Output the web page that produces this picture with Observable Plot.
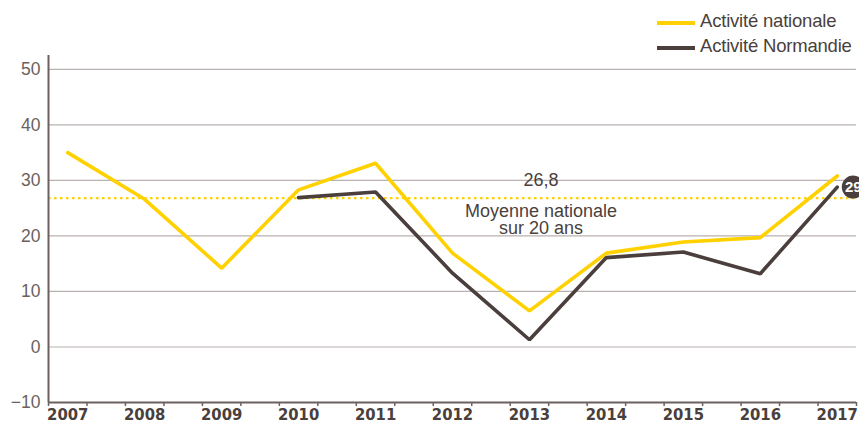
<!DOCTYPE html>
<html>
<head>
<meta charset="utf-8">
<script src="https://cdn.jsdelivr.net/npm/d3@7"></script>
<script src="https://cdn.jsdelivr.net/npm/@observablehq/plot@0.6"></script>
<style>
  html, body { margin: 0; padding: 0; background: #fff; }
  #wrap { position: relative; width: 859px; height: 425px; overflow: hidden; font-family: "Liberation Sans", Arial, sans-serif; }
  #legend { position: absolute; left: 657px; top: 8px; color: #4a3f3c; font-size: 18.5px; line-height: 25px; letter-spacing: -0.2px; }
  #legend .row { display: flex; align-items: center; white-space: nowrap; }
  #legend .sw { display: inline-block; width: 38px; height: 4px; margin-right: 5px; margin-top: 5px; }
</style>
</head>
<body>
<div id="wrap">
  <div id="chart"></div>
  <div id="legend"></div>
</div>
<script>
const years = [2007, 2008, 2009, 2010, 2011, 2012, 2013, 2014, 2015, 2016, 2017];
const nationale = [35, 26.6, 14.2, 28.3, 33.1, 16.9, 6.5, 16.9, 18.9, 19.7, 30.8];
const normandie = [null, null, null, 26.9, 27.9, 13.3, 1.3, 16.1, 17.1, 13.2, 28.8];
const seriesNames = ["Activité nationale", "Activité Normandie"];
const seriesColors = ["#FFD100", "#4a3f3c"];
const moyenne = 26.8;
const moyenneLabel = "26,8";
const moyenneText = "Moyenne nationale\nsur 20 ans";
const lastLabel = "29";
const yTicks = [-10, 0, 10, 20, 30, 40, 50];
const gridTicks = [0, 10, 20, 30, 40, 50];

const natData = years.map((y, i) => ({year: y, value: nationale[i]}));
const norData = years.map((y, i) => ({year: y, value: normandie[i]})).filter(d => d.value != null);
const halfTicks = d3.range(years[0] - 0.25, years[years.length - 1] + 0.5, 0.5);
const xDomain = [years[0] - 0.25, years[years.length - 1] + 0.25];
const yDomain = [-10, 52.5];
const lastNor = norData[norData.length - 1];

const dark = "#4a3f3c";
const chart = Plot.plot({
  width: 859,
  height: 425,
  marginLeft: 48,
  marginRight: 3,
  marginTop: 55,
  marginBottom: 23,
  style: {fontFamily: "'Liberation Sans', Arial, sans-serif", background: "#fff", overflow: "visible"},
  x: {domain: xDomain, axis: null, label: null},
  y: {domain: yDomain, axis: null, label: null},
  marks: [
    Plot.ruleY(gridTicks, {stroke: "#b9b1af", strokeWidth: 1.2}),
    Plot.ruleY([moyenne], {stroke: seriesColors[0], strokeWidth: 2.2, strokeDasharray: "2.5,3.5"}),
    Plot.axisY(yTicks, {label: null, tickSize: 0, tickPadding: 8, fontSize: 17.5, fill: "#6b6260", color: "#6b6260"}),
    Plot.ruleY([yDomain[0]], {stroke: "#6b615e", strokeWidth: 2}),
    Plot.ruleX([xDomain[0]], {stroke: "#6b615e", strokeWidth: 2}),
    Plot.axisX(halfTicks, {label: null, tickSize: 4, tickFormat: () => "", stroke: "#6b615e", strokeWidth: 1.5}),
    Plot.axisX(years, {label: null, tickSize: 0, tickPadding: 6, tickFormat: d => String(d), fontSize: 16.5, fontWeight: "bold", fill: dark, fontFamily: "'DejaVu Sans Condensed', 'DejaVu Sans', sans-serif", fontStretch: "condensed"}),
    Plot.line(natData, {x: "year", y: "value", stroke: seriesColors[0], strokeWidth: 3.6, strokeLinejoin: "miter"}),
    Plot.line(norData, {x: "year", y: "value", stroke: seriesColors[1], strokeWidth: 3.6, strokeLinejoin: "miter"}),
    Plot.text([moyenne], {x: () => 2013.15, y: d => d, text: () => moyenneLabel, dy: -18, fontSize: 18, fill: dark}),
    Plot.text([moyenne], {x: () => 2013.15, y: d => d, text: () => moyenneText, dy: 22, lineHeight: 0.95, fontSize: 18, fill: dark}),
    Plot.dot([lastNor], {x: "year", y: "value", dx: 16, r: 11.5, fill: dark, stroke: "none"}),
    Plot.text([lastNor], {x: "year", y: "value", dx: 16, text: () => lastLabel, fill: "#fff", fontSize: 15, fontWeight: "bold"})
  ]
});
document.getElementById("chart").appendChild(chart);

const legend = document.getElementById("legend");
seriesNames.forEach((name, i) => {
  const row = document.createElement("div");
  row.className = "row";
  const sw = document.createElement("span");
  sw.className = "sw";
  sw.style.background = seriesColors[i];
  row.appendChild(sw);
  row.appendChild(document.createTextNode(name));
  legend.appendChild(row);
});
</script>
</body>
</html>
